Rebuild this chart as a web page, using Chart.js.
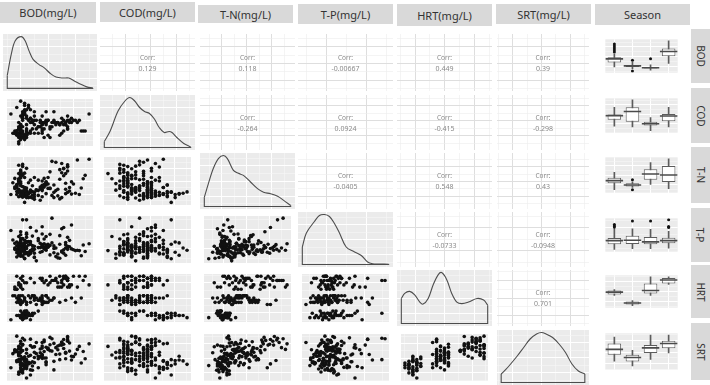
<!DOCTYPE html>
<html>
<head>
<meta charset="utf-8">
<script src="https://cdn.jsdelivr.net/npm/chart.js@4.4.1/dist/chart.umd.min.js"></script>
<style>
html,body{margin:0;padding:0;background:#fff}
body{position:relative;width:710px;height:385px;overflow:hidden;font-family:"Noto Sans","Open Sans","DejaVu Sans",sans-serif}
canvas{position:absolute;display:block}
.strip{position:absolute;background:#d9d9d9;color:#333;display:flex;align-items:center;justify-content:center;white-space:nowrap}
.top{font-size:11px}
.right{font-size:10px}
.right span{display:inline-block;transform:rotate(90deg)}
</style>
</head>
<body>
<script>
// ---------------- DATA ----------------
const variables = ['BOD','COD','T-N','T-P','HRT','SRT'];
const columnTitles = ['BOD(mg/L)','COD(mg/L)','T-N(mg/L)','T-P(mg/L)','HRT(mg/L)','SRT(mg/L)','Season'];
const seasonLabels = ['Season 1','Season 2','Season 3','Season 4'];

// observations (scaled 0-100 over each variable's range), 4 seasons x 40
const bod = [37.5,25,45,90,30,40,52.5,17.5,42.5,32.5,27.5,47.5,62.5,37.5,15,45,30,40,55,27.5,40,50,22.5,35,42.5,77.5,20,40,45,30,47.5,35,25,42.5,55,32.5,45,82.5,40,70,
17.5,12.5,20,25,15,0,17.5,15,27.5,17.5,20,10,22.5,17.5,15,35,12.5,20,25,17.5,7.5,20,15,27.5,17.5,15,22.5,17.5,12.5,25,20,15,10,30,20,15,22.5,12.5,17.5,20,
10,12.5,7.5,15,10,5,12.5,20,10,12.5,7.5,17.5,12.5,10,2.5,12.5,40,10,15,7.5,12.5,10,5,12.5,17.5,10,7.5,12.5,15,10,12.5,20,7.5,10,12.5,15,5,10,12.5,17.5,
62.5,47.5,72.5,85,55,70,30,67.5,77.5,50,65,92.5,60,72.5,42.5,67.5,100,57.5,72.5,45,70,65,25,75,52.5,80,67.5,37.5,72.5,62.5,87.5,50,70,57.5,75,95,65,40,72.5,60];
const cod = [40,60,50,30,55,45,50,70,35,55,50,20,45,55,40,50,65,30,50,55,45,15,55,40,50,60,35,50,75,45,55,25,50,50,55,35,45,55,25,50,
95,65,20,80,55,70,15,75,35,90,65,50,25,80,70,40,100,60,30,75,85,20,65,55,75,30,90,70,45,25,80,60,35,75,30,60,85,25,70,45,
25,35,20,25,5,30,20,25,15,45,25,20,30,0,25,15,35,20,25,30,10,20,25,40,15,25,30,20,25,35,20,15,30,20,30,15,25,40,20,10,
20,55,35,50,75,45,25,55,50,40,60,30,50,55,15,45,70,50,35,55,45,25,60,50,40,55,30,50,65,45,55,35,50,45,55,30,50,65,40,50];
const tn = [6,27,48,34,24,40,17,35,56,29,26,43,9,32,37,21,58,31,24,39,14,33,46,28,42,20,34,28,41,19,33,52,25,36,12,30,45,22,38,31,
22,17,28,24,13,19,16,26,11,21,18,14,23,1,20,17,25,15,29,22,19,12,24,18,16,27,20,21,16,13,25,18,27,14,20,23,12,19,35,15,
45,64,38,83,55,33,60,21,50,72,40,58,27,67,46,75,35,52,63,26,44,86,56,39,68,49,34,48,66,31,57,79,42,24,61,88,36,53,70,29,
76,58,24,98,41,67,8,79,48,33,90,55,16,73,39,62,100,28,84,47,21,69,52,35,95,43,78,36,82,54,19,71,45,93,27,63,12,50,87,31];
const tp = [20,78,37,12,27,34,42,16,32,70,23,39,6,31,26,57,18,80,35,36,22,14,45,31,28,84,19,38,25,9,33,52,17,40,29,0,35,24,63,30,
30,16,45,39,23,71,34,11,28,42,55,19,37,5,32,47,25,62,21,27,44,18,35,58,22,31,13,48,38,24,96,29,41,8,33,52,20,36,26,65,
33,47,19,25,57,30,15,43,22,68,27,37,11,24,49,20,32,17,40,24,16,38,27,52,20,31,9,45,26,18,61,29,35,13,23,96,41,21,28,6,
39,32,55,25,19,43,34,78,28,62,23,37,16,31,51,26,40,10,34,29,38,21,45,33,100,26,18,41,31,59,24,36,13,30,48,22,75,35,27,7];
const hrt = [50,40,55,50,45,55,45,50,40,50,55,50,40,45,55,40,50,35,50,55,40,45,55,45,40,50,40,45,55,55,40,45,50,40,50,35,55,40,50,45,
10,5,15,10,15,0,20,5,15,10,10,10,15,5,10,20,5,15,0,15,10,20,5,10,5,15,10,5,20,10,15,0,10,15,5,10,15,10,5,20,
85,45,70,100,45,70,40,85,50,75,50,45,40,80,55,35,90,50,40,100,55,45,75,40,85,55,40,95,70,45,80,35,70,50,45,90,55,40,75,50,
100,80,95,75,90,100,85,95,80,100,90,90,75,95,85,100,80,95,75,90,100,85,95,75,90,100,80,95,90,75,100,85,95,90,80,100,75,95,90,85];
const srt = [61,93,49,37,75,54,65,43,87,59,30,70,45,52,81,40,62,57,21,74,48,66,36,53,91,44,60,77,38,50,69,26,55,64,41,85,33,58,72,47,
42,23,38,9,32,26,51,35,20,44,28,16,39,31,22,47,34,2,37,25,43,30,14,40,33,19,53,27,36,21,45,32,11,38,24,49,35,17,41,29,
71,45,64,79,56,67,53,69,61,68,65,51,38,76,59,26,85,45,47,100,62,43,68,31,91,57,40,88,66,54,73,35,66,60,44,95,63,41,82,49,
79,72,96,69,83,61,75,92,53,80,85,64,77,90,49,71,82,57,99,74,60,86,78,65,94,52,81,70,88,58,76,97,62,73,84,47,79,55,91,68];

// correlation labels (upper triangle, row by row)
const corrValues = [
  [0.129, 0.118, -0.00667, 0.449, 0.39],
  [-0.264, 0.0924, -0.415, -0.298],
  [-0.0405, 0.548, 0.43],
  [-0.0733, -0.0948],
  [0.701]
];

// density curves: [x, relative density]
const densBOD = [[0,0.25],[4.7,0.66],[9.3,0.92],[16.3,1],[20.9,0.92],[25.6,0.72],[30.2,0.56],[37.2,0.46],[43,0.40],[51,0.28],[57,0.22],[65,0.20],[72,0.20],[79,0.14],[86,0.08],[93,0.03],[100,0.01]];
const densCOD = [[0,0.12],[6.8,0.33],[15.9,0.73],[23.9,0.93],[29.5,1],[35.2,0.93],[40.9,0.8],[46.6,0.72],[52.3,0.68],[58,0.57],[63.6,0.4],[69.3,0.3],[75,0.32],[78.4,0.3],[84,0.2],[92,0.08],[100,0.01]];
const densTN = [[0,0.18],[4.7,0.45],[10.5,0.75],[16.3,0.94],[22.1,1],[26.7,0.94],[33.7,0.71],[39.5,0.65],[45.3,0.61],[53.5,0.48],[61.6,0.35],[68.6,0.28],[76.7,0.25],[84.9,0.2],[91.9,0.12],[100,0.02]];
const densTP = [[0,0.35],[4.7,0.63],[14,0.86],[19.8,0.98],[25.6,1],[31.4,0.96],[37.2,0.82],[43,0.63],[50.8,0.35],[60.5,0.25],[68.3,0.18],[75.6,0.05],[81.4,0.015],[89.5,0.01],[100,0.005]];
const densHRT = [[0,0.49],[3.9,0.59],[9.7,0.63],[15.5,0.56],[21.4,0.42],[25.2,0.38],[31.1,0.49],[36.9,0.76],[42.8,0.96],[46.7,1],[52.6,0.86],[58.4,0.59],[64.3,0.42],[70.1,0.39],[77.8,0.42],[87.6,0.49],[95.3,0.46],[100,0.36]];
const densSRT = [[0,0.17],[7.7,0.3],[19.2,0.53],[26.9,0.7],[34.6,0.87],[42.3,0.97],[48.1,1],[53.8,0.97],[61.5,0.9],[69.2,0.77],[76.9,0.6],[84.6,0.37],[92.3,0.23],[100,0.17]];

// box statistics per season: [lower whisker, Q1, median, Q3, upper whisker]
const boxBOD = [[13.9,28.8,40.4,45.9,56.1],[8.5,13.9,17.4,20.7,28.8],[3.2,8.5,11.3,13.9,20.7],[25.6,49.2,64.9,74.4,100]];
const boxCOD = [[16.2,36.2,49.6,53.6,76.2],[13.6,29.6,63,76.2,100],[1.6,17.6,23.6,29.6,43],[13.6,31.6,48.2,55,76.2]];
const boxTN  = [[4.7,24.1,32.5,41.6,58.4],[11.1,14.4,18.9,24.1,28.6],[20.8,35,53.3,67.5,88.9],[7.8,28.6,50,77.8,100]];
const boxTP  = [[2.1,19.1,31.5,39.7,72],[5.3,20.6,32.9,47.9,70.6],[5.3,19.1,27.4,43.2,68.5],[6.8,22.6,31.5,41.2,62.3]];
const boxHRT = [[36.3,39.6,47.8,53.4,56.9],[1.9,5.4,10.7,15.7,19],[36.3,43.1,53.4,77.5,100],[74,77.5,89.1,96.1,100]];
const boxSRT = [[20.8,40.2,56.5,74,93.4],[6.6,19.6,31.8,40.2,53.2],[26,45.4,61,69.3,99.8],[45.4,59.6,74,82.3,99.8]];
// outliers: [season index, value]
const outBOD = [[0,89.9],[0,83.2],[0,76.5],[0,69.6],[0,62.8],[1,35.7],[1,0.3],[2,41]];
const outCOD = [];
const outTN  = [[1,35],[1,4]];
const outTP  = [[0,84.4],[0,79.8],[0,76.7],[1,95.9],[2,95.9],[3,100],[3,77.8],[3,74.7]];
const outHRT = [];
const outSRT = [];

// grid break positions (major) per variable
const gridBOD = [16,48,80];
const gridCOD = [24,54,84];
const gridTN  = [20,49,78];
const gridTP  = [28,74];
const gridHRT = [16,50,85];
const gridSRT = [14,48,83];
const gridDensity = [0.2,0.5,0.8];

// ---------------- LAYOUT ----------------
const colX = [3,100,200,298,397,497], colW = [94,95,95,95,95,92];
const rowY = [34,95,153,212,270,330], rowH = [57,55,56,55,56,55];
const seasX = 595, seasW = 93;
const seasY = [29,88,147,208,265,323], seasH = [54,55,56,54,53,57];
const topStrips = [[0,2,96,21],[100,2,95,20],[198,5,95,18],[298,4,95,20],[397,4,95,22],[496,4,95,20],[595,4,95,21]];
const rightX = 691, rightW = 19;

const series = [bod,cod,tn,tp,hrt,srt];
const dens = [densBOD,densCOD,densTN,densTP,densHRT,densSRT];
const boxes = [boxBOD,boxCOD,boxTN,boxTP,boxHRT,boxSRT];
const outs = [outBOD,outCOD,outTN,outTP,outHRT,outSRT];
const grids = [gridBOD,gridCOD,gridTN,gridTP,gridHRT,gridSRT];

const PANEL_BG = '#ebebeb';
const INK = '#4d4d4d';

function makeCanvas(x,y,w,h){
  const c = document.createElement('canvas');
  c.width = w; c.height = h;
  c.style.left = x+'px'; c.style.top = y+'px';
  c.style.width = w+'px'; c.style.height = h+'px';
  document.body.appendChild(c);
  return c;
}
function tickList(majors,min,max){
  const step = majors.length>1 ? majors[1]-majors[0] : (max-min)/3;
  const out = [];
  const lo = majors[0]-step/2; if (lo>min) out.push({value:lo,mj:false});
  majors.forEach((m,i)=>{ out.push({value:m,mj:true}); if(i<majors.length-1) out.push({value:(m+majors[i+1])/2,mj:false}); });
  const hi = majors[majors.length-1]+step/2; if (hi<max) out.push({value:hi,mj:false});
  return out;
}
function linScale(min,max,majors,majorColor,minorColor){
  const ticks = tickList(majors,min,max);
  return {
    type:'linear', min, max, display:true,
    border:{display:false}, ticks:{display:false},
    grid:{drawTicks:false,
      color: ctx => (ctx.tick && ctx.tick.mj) ? majorColor : minorColor,
      lineWidth: ctx => (ctx.tick && ctx.tick.mj) ? 1 : 0.6},
    afterBuildTicks: s => { s.ticks = ticks.map(t=>({value:t.value, mj:t.mj})); }
  };
}
const bgPlugin = { id:'bg', beforeDraw(chart,args,opts){
  if(!opts || !opts.color) return;
  const a = chart.chartArea, ctx = chart.ctx;
  ctx.save(); ctx.fillStyle = opts.color; ctx.fillRect(a.left,a.top,a.right-a.left,a.bottom-a.top); ctx.restore();
}};
const corrPlugin = { id:'corrText', afterDraw(chart,args,opts){
  if(!opts || opts.text===undefined) return;
  const a = chart.chartArea, ctx = chart.ctx;
  const cx = (a.left+a.right)/2, cy = (a.top+a.bottom)/2;
  ctx.save(); ctx.fillStyle = '#8a8a8a'; ctx.textAlign = 'center'; ctx.textBaseline = 'middle';
  ctx.font = '6.5px "Noto Sans"'; ctx.fillText('Corr:', cx, cy-4.5);
  ctx.font = '7px "Noto Sans"'; ctx.fillText(opts.text, cx, cy+6);
  ctx.restore();
}};
function baseOptions(extraPlugins){
  return { responsive:false, animation:false, events:[], devicePixelRatio:1,
    layout:{padding:0},
    plugins:Object.assign({legend:{display:false}, tooltip:{enabled:false}}, extraPlugins||{}) };
}

// ---------------- STRIPS ----------------
columnTitles.forEach((t,i)=>{
  const s = topStrips[i];
  const d = document.createElement('div');
  d.className = 'strip top';
  d.style.left = s[0]+'px'; d.style.top = s[1]+'px'; d.style.width = s[2]+'px'; d.style.height = s[3]+'px';
  d.textContent = t;
  document.body.appendChild(d);
});
variables.forEach((v,r)=>{
  const d = document.createElement('div');
  d.className = 'strip right';
  d.style.left = rightX+'px'; d.style.top = seasY[r]+'px'; d.style.width = rightW+'px'; d.style.height = seasH[r]+'px';
  const sp = document.createElement('span'); sp.textContent = v; d.appendChild(sp);
  document.body.appendChild(d);
});

// ---------------- PANELS ----------------
for (let r=0; r<6; r++){
  for (let c=0; c<6; c++){
    const cv = makeCanvas(colX[c], rowY[r], colW[c], rowH[r]);
    if (c < r){
      const pts = series[c].map((v,i)=>({x:v, y:series[r][i]}));
      const opt = baseOptions({bg:{color:PANEL_BG}});
      opt.scales = { x: linScale(-5,105,grids[c],'#ffffff','#f7f7f7'), y: linScale(-5,105,grids[r],'#ffffff','#f7f7f7') };
      new Chart(cv,{type:'scatter', data:{datasets:[{data:pts, pointRadius:1.8, pointBackgroundColor:'#111', pointBorderWidth:0}]}, options:opt, plugins:[bgPlugin]});
    } else if (c === r){
      const d = dens[c];
      const curve = d.map(p=>({x:p[0], y:p[1]}));
      const outline = [{x:d[0][0],y:d[0][1]},{x:d[0][0],y:0},{x:d[d.length-1][0],y:0},{x:d[d.length-1][0],y:d[d.length-1][1]}];
      const opt = baseOptions({bg:{color:PANEL_BG}});
      opt.scales = { x: linScale(-5,105,grids[c],'#ffffff','#f7f7f7'), y: linScale(-0.05,1.05,gridDensity,'#ffffff','#f7f7f7') };
      new Chart(cv,{type:'scatter', data:{datasets:[
        {data:curve, showLine:true, pointRadius:0, borderColor:INK, borderWidth:1.1, tension:0.35},
        {data:outline, showLine:true, pointRadius:0, borderColor:INK, borderWidth:1.1, tension:0}
      ]}, options:opt, plugins:[bgPlugin]});
    } else {
      const opt = baseOptions({corrText:{text:String(corrValues[r][c-r-1])}});
      opt.scales = { x: linScale(-5,105,grids[c],'#dedede','#ededed'), y: linScale(-5,105,grids[r],'#dedede','#ededed') };
      new Chart(cv,{type:'scatter', data:{datasets:[]}, options:opt, plugins:[corrPlugin]});
    }
  }
  // season box plot panel
  const cv = makeCanvas(seasX, seasY[r], seasW, seasH[r]);
  const st = boxes[r];
  const halfBox = seasW/4*0.75/2;
  const opt = baseOptions({bg:{color:PANEL_BG}});
  opt.scales = {
    x: {type:'category', offset:true, display:true, border:{display:false}, ticks:{display:false},
        grid:{drawTicks:false, offset:false, color:'#ffffff', lineWidth:1}},
    y: linScale(-5,105,grids[r],'#ffffff','#f7f7f7')
  };
  new Chart(cv,{type:'bar', data:{labels:seasonLabels, datasets:[
    {type:'line', data:st.map(s=>s[2]), showLine:false, pointStyle:'line', pointRadius:halfBox, pointBorderColor:'#4a4a4a', pointBorderWidth:1.6, order:0},
    {type:'line', data:outs[r].map(o=>({x:seasonLabels[o[0]], y:o[1]})), showLine:false, pointRadius:1.5, pointBackgroundColor:'#111', pointBorderWidth:0, order:1},
    {type:'bar', data:st.map(s=>[s[1],s[3]]), backgroundColor:'#ffffff', borderColor:'#5c5c5c', borderWidth:1, borderSkipped:false, barPercentage:0.75, categoryPercentage:1, grouped:false, order:2},
    {type:'bar', data:st.map(s=>[s[0],s[4]]), backgroundColor:'#5c5c5c', borderWidth:0, barThickness:1, grouped:false, order:3}
  ]}, options:opt, plugins:[bgPlugin]});
}
</script>
</body>
</html>
